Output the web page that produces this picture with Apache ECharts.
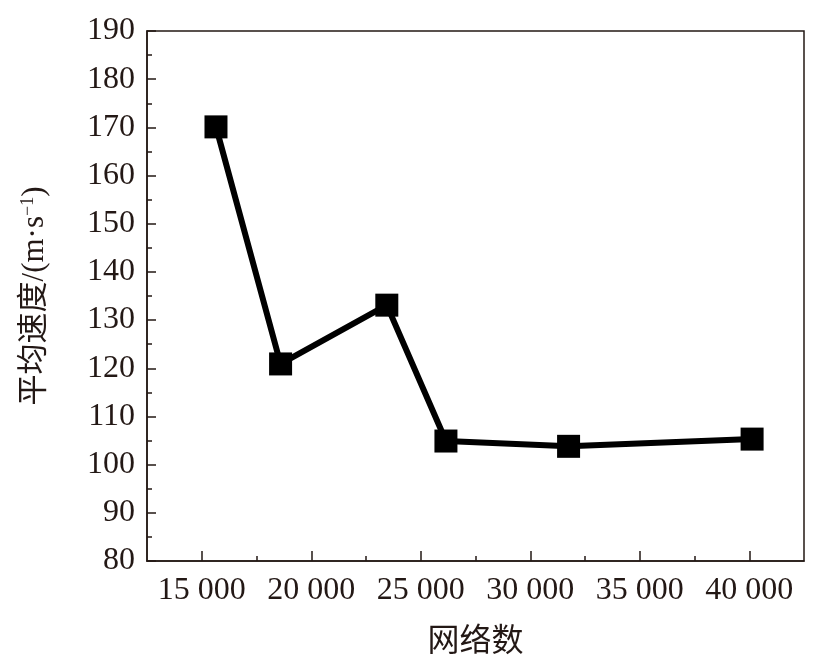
<!DOCTYPE html>
<html>
<head>
<meta charset="utf-8">
<script src="https://cdn.jsdelivr.net/npm/echarts@6/dist/echarts.min.js"></script>
<style>
  html, body { margin: 0; padding: 0; background: #fff; }
  #container { width: 827px; height: 668px; }
</style>
</head>
<body>
<div id="container"></div>
<script>
(function() {
"use strict";

    // grid counts and mean speed
    var gridCounts = [15650, 18600, 23450, 26150, 31750, 40130];
    var meanSpeed = [170.1, 120.9, 133.1, 104.9, 103.8, 105.3];
    var xMajorTicks = [15000, 20000, 25000, 30000, 35000, 40000];
    var xMinorTicks = [17500, 22500, 27500, 32500, 37500];

    var ink = '#231815';
    var font = "'Liberation Serif', 'Noto Sans CJK SC', serif";

    var points = gridCounts.map(function(x, i) {
        return [x, meanSpeed[i]];
    });

    var dom = document.getElementById("container");
    var myChart = echarts.init(dom, null, { renderer: 'canvas' });

    var option = {
        animation: false,
        backgroundColor: '#fff',
        grid: {
            left: 147,
            right: 23,
            top: 31,
            bottom: 107,
            show: true,
            borderColor: ink,
            borderWidth: 1.5,
            backgroundColor: 'transparent'
        },
        xAxis: [{
            type: 'value',
            min: 12500,
            max: 42500,
            interval: 2500,
            position: 'bottom',
            name: '网络数',
            nameLocation: 'middle',
            nameGap: 66,
            nameTextStyle: { fontFamily: font, fontSize: 32, color: ink },
            axisLine: { show: true, lineStyle: { color: ink, width: 1.5 } },
            axisTick: {
                show: true,
                inside: true,
                length: 10,
                customValues: xMajorTicks,
                lineStyle: { color: ink, width: 1.5 }
            },
            axisLabel: {
                show: true,
                customValues: xMajorTicks,
                margin: 14,
                fontFamily: font,
                fontSize: 32,
                color: ink,
                formatter: function(v) {
                    return (v / 1000) + ' 000';
                }
            },
            splitLine: { show: false }
        }, {
            type: 'value',
            min: 12500,
            max: 42500,
            interval: 2500,
            position: 'bottom',
            axisLine: { show: false },
            axisTick: {
                show: true,
                inside: true,
                length: 5,
                customValues: xMinorTicks,
                lineStyle: { color: ink, width: 1.5 }
            },
            axisLabel: { show: false },
            splitLine: { show: false }
        }],
        yAxis: {
            type: 'value',
            min: 80,
            max: 190,
            interval: 10,
            name: '平均速度/(m·s{sup|−1})',
            nameLocation: 'middle',
            nameGap: 97,
            nameTextStyle: {
                fontFamily: font,
                fontSize: 31,
                color: ink,
                rich: {
                    sup: { fontFamily: font, fontSize: 18, color: ink, verticalAlign: 'top', padding: [0, 0, 12, 0] }
                }
            },
            axisLine: { show: true, lineStyle: { color: ink, width: 1.5 } },
            axisTick: {
                show: true,
                inside: true,
                length: 9,
                lineStyle: { color: ink, width: 1.5 }
            },
            minorTick: {
                show: true,
                splitNumber: 2,
                length: 5,
                lineStyle: { color: ink, width: 1.5 }
            },
            axisLabel: {
                margin: 12,
                fontFamily: font,
                fontSize: 32,
                color: ink
            },
            splitLine: { show: false },
            minorSplitLine: { show: false }
        },
        series: [{
            type: 'line',
            xAxisIndex: 0,
            data: points,
            symbol: 'rect',
            symbolSize: 23,
            lineStyle: { color: '#000', width: 6 },
            itemStyle: { color: '#000' }
        }]
    };

    myChart.setOption(option, true);

})();
</script>
</body>
</html>
